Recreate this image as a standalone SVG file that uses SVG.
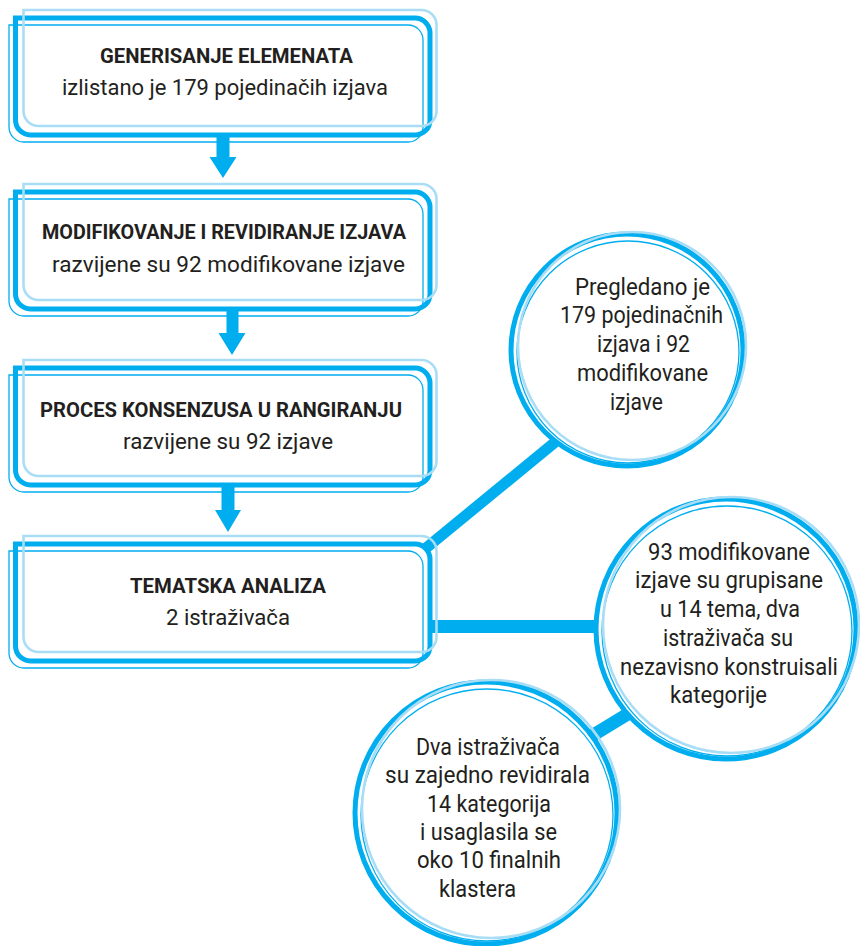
<svg xmlns="http://www.w3.org/2000/svg" width="860" height="946" viewBox="0 0 860 946">
<style>
.thick{fill:none;stroke:#00AEEF;stroke-width:5}
.light{fill:none;stroke:#A8DDF5;stroke-width:2.6}
.thin{fill:none;stroke:#00AEEF;stroke-width:1.3}
.bg{fill:#ffffff;stroke:none}
.conn{stroke:#00AEEF;fill:none}
.arrow{fill:#00AEEF}
text{font-family:Roboto,"Liberation Sans",sans-serif;fill:#231F20;font-size:22px}
.b{font-weight:bold;font-size:21px}
.c{font-size:23px}
</style>
<defs>
<g id="boxframe">
<path class="bg" d="M0,0 H399.5 A15,15 0 0 1 414.5,15 V102 A15,15 0 0 1 399.5,117 H15 A15,15 0 0 1 0,102 Z"/>
<path class="thick" d="M0,0 H399.5 A15,15 0 0 1 414.5,15 V102 A15,15 0 0 1 399.5,117 H15 A15,15 0 0 1 0,102 Z"/>
<path class="thin" d="M-6.5,7 H392.5 A15,15 0 0 1 407.5,22 V109 A15,15 0 0 1 392.5,124 H8.5 A15,15 0 0 1 -6.5,109 Z"/>
<path class="light" d="M8,-8 H406 A15,15 0 0 1 421,7 V93 A15,15 0 0 1 406,108 H23 A15,15 0 0 1 8,93 Z"/>
</g>
</defs>

<g id="connectors">
<line class="conn" x1="420" y1="553" x2="565" y2="434" stroke-width="11"/>
<line class="conn" x1="430" y1="626.5" x2="605" y2="626.5" stroke-width="13"/>
<line class="conn" x1="590" y1="737" x2="636" y2="709" stroke-width="13"/>
<polygon class="arrow" points="216.5,137 229.5,137 229.5,157 236.5,157 223,178 209.5,157 216.5,157"/>
<polygon class="arrow" points="226.5,310 238.5,310 238.5,333 245.5,333 232,355 218.5,333 226.5,333"/>
<polygon class="arrow" points="221.5,487 234.5,487 234.5,510 241,510 228,532 215,510 221.5,510"/>
</g>

<g id="box1">
<use href="#boxframe" transform="translate(15.5,18)"/>
<text class="b" x="100" y="63" textLength="253" lengthAdjust="spacingAndGlyphs">GENERISANJE ELEMENATA</text>
<text x="62" y="95" textLength="326" lengthAdjust="spacingAndGlyphs">izlistano je 179 pojedinačih izjava</text>
</g>

<g id="box2">
<use href="#boxframe" transform="translate(15.5,192)"/>
<text class="b" x="42" y="239" textLength="364" lengthAdjust="spacingAndGlyphs">MODIFIKOVANJE I REVIDIRANJE IZJAVA</text>
<text x="52" y="272" textLength="353" lengthAdjust="spacingAndGlyphs">razvijene su 92 modifikovane izjave</text>
</g>

<g id="box3">
<use href="#boxframe" transform="translate(15.5,368)"/>
<text class="b" x="40" y="417" textLength="362" lengthAdjust="spacingAndGlyphs">PROCES KONSENZUSA U RANGIRANJU</text>
<text x="123" y="449" textLength="210" lengthAdjust="spacingAndGlyphs">razvijene su 92 izjave</text>
</g>

<g id="box4">
<use href="#boxframe" transform="translate(15.5,544)"/>
<text class="b" x="130" y="593" textLength="196" lengthAdjust="spacingAndGlyphs">TEMATSKA ANALIZA</text>
<text x="166" y="625" textLength="124" lengthAdjust="spacingAndGlyphs">2 istraživača</text>
</g>

<g id="circle1">
<circle class="bg" cx="627" cy="350" r="116"/>
<circle class="thick" cx="627" cy="350" r="116"/>
<circle class="thin" cx="628" cy="352" r="111"/>
<circle class="light" cx="632" cy="346" r="114"/>
<text class="c" x="575" y="295" textLength="135" lengthAdjust="spacingAndGlyphs">Pregledano je</text>
<text class="c" x="560" y="323" textLength="163" lengthAdjust="spacingAndGlyphs">179 pojedinačnih</text>
<text class="c" x="597" y="352" textLength="93" lengthAdjust="spacingAndGlyphs">izjava i 92</text>
<text class="c" x="577" y="381" textLength="131" lengthAdjust="spacingAndGlyphs">modifikovane</text>
<text class="c" x="610" y="410" textLength="53" lengthAdjust="spacingAndGlyphs">izjave</text>
</g>

<g id="circle2">
<circle class="bg" cx="726" cy="629" r="130"/>
<circle class="thick" cx="726" cy="629" r="130"/>
<circle class="thin" cx="727" cy="631" r="125"/>
<circle class="light" cx="731" cy="625" r="128"/>
<text class="c" x="648" y="560" textLength="162" lengthAdjust="spacingAndGlyphs">93 modifikovane</text>
<text class="c" x="635" y="588" textLength="188" lengthAdjust="spacingAndGlyphs">izjave su grupisane</text>
<text class="c" x="660" y="617" textLength="140" lengthAdjust="spacingAndGlyphs">u 14 tema, dva</text>
<text class="c" x="663" y="646" textLength="130" lengthAdjust="spacingAndGlyphs">istraživača su</text>
<text class="c" x="620" y="675" textLength="218" lengthAdjust="spacingAndGlyphs">nezavisno konstruisali</text>
<text class="c" x="670" y="703" textLength="97" lengthAdjust="spacingAndGlyphs">kategorije</text>
</g>

<g id="circle3">
<circle class="bg" cx="486" cy="813" r="131"/>
<circle class="thick" cx="486" cy="813" r="131"/>
<circle class="thin" cx="487" cy="815" r="126"/>
<circle class="light" cx="491" cy="809" r="129"/>
<text class="c" x="416" y="755" textLength="144" lengthAdjust="spacingAndGlyphs">Dva istraživača</text>
<text class="c" x="385" y="783" textLength="205" lengthAdjust="spacingAndGlyphs">su zajedno revidirala</text>
<text class="c" x="427" y="812" textLength="124" lengthAdjust="spacingAndGlyphs">14 kategorija</text>
<text class="c" x="420" y="840" textLength="137" lengthAdjust="spacingAndGlyphs">i usaglasila se</text>
<text class="c" x="417" y="868" textLength="144" lengthAdjust="spacingAndGlyphs">oko 10 finalnih</text>
<text class="c" x="439" y="897" textLength="77" lengthAdjust="spacingAndGlyphs">klastera</text>
</g>
</svg>
